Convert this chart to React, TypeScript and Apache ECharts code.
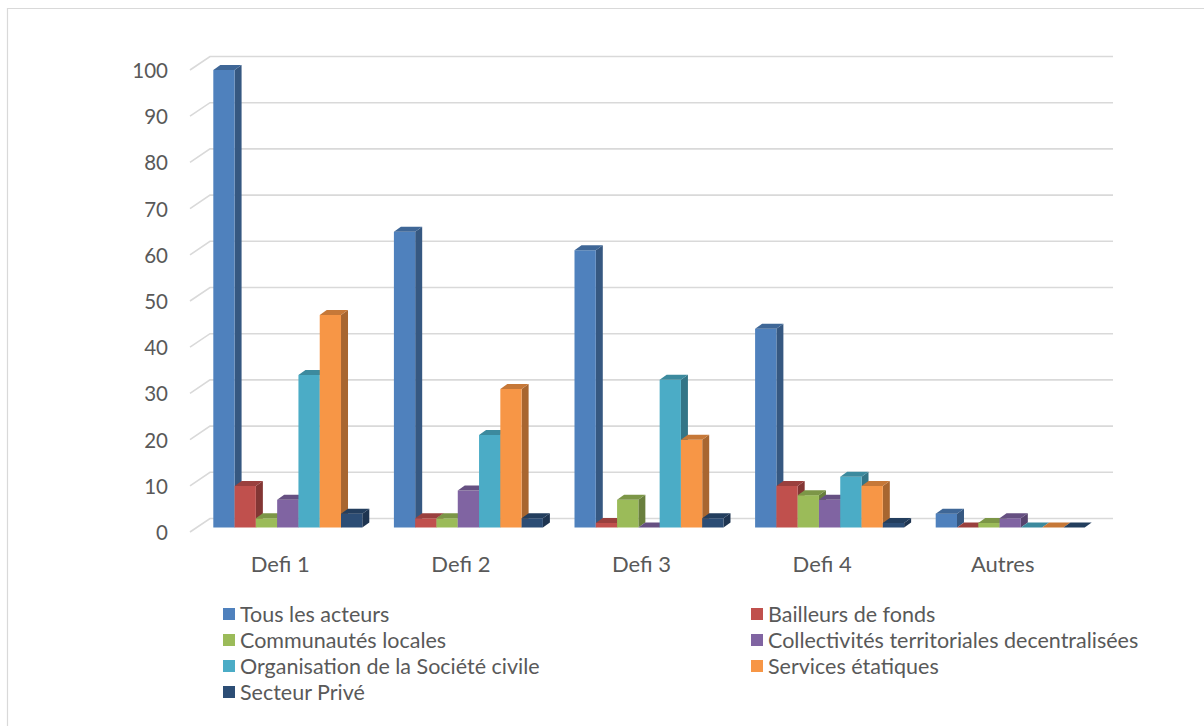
import React, { useEffect, useRef } from "react";
import * as echarts from "echarts";

const categories = ["Defi 1", "Defi 2", "Defi 3", "Defi 4", "Autres"];
const seriesNames = [
  "Tous les acteurs",
  "Bailleurs de fonds",
  "Communautés locales",
  "Collectivités territoriales decentralisées",
  "Organisation de la Société civile",
  "Services étatiques",
  "Secteur Privé",
];
const tousLesActeurs = [99, 64, 60, 43, 3];
const bailleursDeFonds = [9, 2, 1, 9, 0];
const communautesLocales = [2, 2, 6, 7, 1];
const collectivites = [6, 8, 0, 6, 2];
const societeCivile = [33, 20, 32, 11, 0];
const servicesEtatiques = [46, 30, 19, 9, 0];
const secteurPrive = [3, 2, 2, 1, 0];
const yTicks = [0, 10, 20, 30, 40, 50, 60, 70, 80, 90, 100];

const seriesValues = [
  tousLesActeurs,
  bailleursDeFonds,
  communautesLocales,
  collectivites,
  societeCivile,
  servicesEtatiques,
  secteurPrive,
];
const colors = ["#4F81BD", "#C0504D", "#9BBB59", "#8064A2", "#4BACC6", "#F79646", "#2C4D75"];

function shade(hex: string, f: number) {
  const n = parseInt(hex.slice(1), 16);
  const r = Math.round(((n >> 16) & 255) * f);
  const g = Math.round(((n >> 8) & 255) * f);
  const b = Math.round((n & 255) * f);
  return `rgb(${r},${g},${b})`;
}

// wall depth (front plane -> back wall)
const WDX = 20;
const WDY = -13.5;
// bar front offset from front plane, and bar depth
const FX = 7.5;
const FY = -4.5;
const BDX = 7;
const BDY = -5;
const FONT = "Lato, 'Open Sans', sans-serif";

export default function App() {
  const ref = useRef<HTMLDivElement>(null);
  useEffect(() => {
    if (!ref.current) return;
    const chart = echarts.init(ref.current, undefined, { renderer: "svg" });

    const gridSeries = {
      type: "custom",
      name: "grid",
      silent: true,
      z: 1,
      data: yTicks.map((v) => [0, v]),
      encode: { x: 0, y: 1 },
      renderItem: (params: any, api: any) => {
        const cs = params.coordSys;
        const y = api.coord([0, api.value(1)])[1];
        return {
          type: "polyline",
          shape: {
            points: [
              [cs.x, y],
              [cs.x + WDX, y + WDY],
              [cs.x + cs.width + WDX, y + WDY],
            ],
          },
          style: { stroke: "#d9d9d9", lineWidth: 1.6, fill: "none" },
        };
      },
    };

    const barSeries = seriesValues.map((vals, idx) => ({
      type: "custom",
      name: seriesNames[idx],
      z: 2,
      itemStyle: { color: colors[idx] },
      data: vals.map((v, i) => [i, v]),
      encode: { x: 0, y: 1 },
      renderItem: (params: any, api: any) => {
        const cat = api.value(0);
        const v = api.value(1);
        const p0 = api.coord([cat, 0]);
        const p1 = api.coord([cat, v]);
        const catW = api.size([1, 0])[0];
        const groupW = catW * 0.825;
        const bw = groupW / 7;
        const xl = p0[0] - groupW / 2 + idx * bw + FX;
        const xr = xl + bw;
        const yb = p0[1] + FY;
        const yt = p1[1] + FY;
        const c = colors[idx];
        return {
          type: "group",
          children: [
            {
              type: "polygon",
              shape: {
                points: [
                  [xr, yt],
                  [xr + BDX, yt + BDY],
                  [xr + BDX, yb + BDY],
                  [xr, yb],
                ],
              },
              style: { fill: shade(c, 0.68) },
            },
            {
              type: "rect",
              shape: { x: xl, y: yt, width: bw, height: Math.max(0, yb - yt) },
              style: { fill: c },
            },
            {
              type: "polygon",
              shape: {
                points: [
                  [xl, yt],
                  [xl + BDX, yt + BDY],
                  [xr + BDX, yt + BDY],
                  [xr, yt],
                ],
              },
              style: { fill: shade(c, 0.8) },
            },
          ],
        };
      },
    }));

    const legendCommon = {
      orient: "vertical",
      top: 601,
      padding: 0,
      icon: "rect",
      itemWidth: 12,
      itemHeight: 12,
      itemGap: 0,
      textStyle: { fontSize: 21.5, lineHeight: 26, color: "#595959", fontFamily: FONT },
    };

    chart.setOption({
      animation: false,
      backgroundColor: "#ffffff",
      textStyle: { fontFamily: FONT },
      graphic: [
        {
          type: "rect",
          silent: true,
          shape: { x: 7.5, y: 8.5, width: 1400, height: 900 },
          style: { fill: "none", stroke: "#d9d9d9", lineWidth: 1.2 },
        },
      ],
      grid: { left: 190, right: 111, top: 70, bottom: 194, containLabel: false },
      legend: [
        { ...legendCommon, left: 223, data: [seriesNames[0], seriesNames[2], seriesNames[4], seriesNames[6]] },
        { ...legendCommon, left: 751, data: [seriesNames[1], seriesNames[3], seriesNames[5]] },
      ],
      xAxis: {
        type: "category",
        data: categories,
        axisLine: { show: false },
        axisTick: { show: false },
        splitLine: { show: false },
        axisLabel: { fontSize: 22, color: "#595959", margin: 20, fontFamily: FONT },
      },
      yAxis: {
        type: "value",
        min: 0,
        max: 100,
        interval: 10,
        axisLine: { show: false },
        axisTick: { show: false },
        splitLine: { show: false },
        axisLabel: { fontSize: 20.5, color: "#595959", margin: 22, fontFamily: FONT },
      },
      series: [gridSeries, ...barSeries],
    });
    return () => chart.dispose();
  }, []);
  return (
    <div
      ref={ref}
      style={{ position: "absolute", left: 0, top: 0, width: 1204, height: 726 }}
    />
  );
}
